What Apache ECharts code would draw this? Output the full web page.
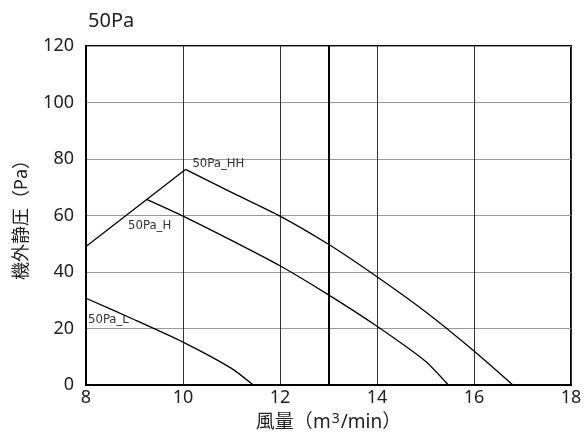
<!DOCTYPE html>
<html><head><meta charset="utf-8">
<script src="https://cdn.jsdelivr.net/npm/echarts@6/dist/echarts.min.js"></script>
<style>html,body{margin:0;padding:0;background:#fff}#c{width:587px;height:443px}</style>
</head><body><div id="c"></div>
<script>
var titleText = '50Pa';
var xTicks = {min: 8, max: 18, interval: 2};
var yTicks = {min: 0, max: 120, interval: 20};
var markX = 13;

var hhName = '50Pa_HH';
var hhX = [8, 10.05, 11, 12, 13, 14, 15, 16, 16.8];
var hhY = [49, 76.3, 68.2, 59.8, 49.8, 38.3, 25.9, 12, 0];
var hhPeak = 1;

var hName = '50Pa_H';
var hX = [9.25, 10, 11, 12, 13, 14, 15, 15.47];
var hY = [65.7, 59.8, 51.2, 42.2, 31.9, 20.8, 8.4, 0];

var lName = '50Pa_L';
var lX = [8, 9, 10, 11, 11.45];
var lY = [30.7, 23.1, 15.2, 5.9, 0];

var FONT = '"Noto Sans", "Noto Sans CJK JP", sans-serif';
var LFONT = '"DejaVu Sans Condensed", sans-serif';

function pts(xs, ys, from, to) {
  var out = [];
  for (var i = from; i < to; i++) out.push([xs[i], ys[i]]);
  return out;
}
function withLabel(data, idx, name, lab) {
  return data.map(function (p, i) {
    var d = {value: p};
    if (i === idx) d.label = Object.assign({show: true, formatter: name, color: '#333', fontSize: 13, fontFamily: LFONT}, lab);
    return d;
  });
}

var chart = echarts.init(document.getElementById('c'), null, {renderer: 'canvas'});
var ls = {color: '#000', width: 1.3};
var common = {type: 'line', symbol: 'circle', symbolSize: 0, showSymbol: true, lineStyle: ls, itemStyle: {color: '#000'}, smooth: 0.2};
chart.setOption({
  animation: false,
  title: {text: titleText, left: 83, top: 6, textStyle: {fontFamily: FONT, fontSize: 20, fontWeight: 'normal', color: '#222'}},
  grid: {left: 86, right: 16, top: 46, bottom: 58, show: true, borderColor: '#000', borderWidth: 2, backgroundColor: 'transparent'},
  xAxis: {
    type: 'value', min: xTicks.min, max: xTicks.max, interval: xTicks.interval,
    name: '{a|風量（m}{s|3}{a|/min）}', nameLocation: 'middle', nameGap: 26,
    nameTextStyle: {rich: {a: {fontFamily: FONT, fontSize: 19, color: '#222'}, s: {fontFamily: FONT, fontSize: 14, color: '#222', verticalAlign: 'top', padding: [0, 1, 8, 1]}}},
    axisLine: {lineStyle: {color: '#000', width: 2}},
    axisTick: {show: false},
    axisLabel: {fontFamily: FONT, fontSize: 18, color: '#222', margin: 4},
    splitLine: {show: true, lineStyle: {color: '#333', width: 1}}
  },
  yAxis: {
    type: 'value', min: yTicks.min, max: yTicks.max, interval: yTicks.interval,
    name: '機外静圧（Pa）', nameLocation: 'middle', nameGap: 55,
    nameTextStyle: {fontFamily: FONT, fontSize: 18, color: '#222'},
    axisLine: {lineStyle: {color: '#000', width: 2}},
    axisTick: {show: false},
    axisLabel: {fontFamily: FONT, fontSize: 18, color: '#222', margin: 12},
    splitLine: {show: true, lineStyle: {color: '#999', width: 1}}
  },
  series: [
    Object.assign({}, common, {name: hhName + ' rise', smooth: false,
      data: withLabel(pts(hhX, hhY, 0, hhPeak + 1), hhPeak, hhName, {position: 'right', distance: 7, offset: [0, -6]}),
      markLine: {silent: true, symbol: 'none', label: {show: false}, lineStyle: {color: '#000', width: 2, type: 'solid'}, data: [{xAxis: markX}]}}),
    Object.assign({}, common, {name: hhName, data: pts(hhX, hhY, hhPeak, hhX.length)}),
    Object.assign({}, common, {name: hName, data: withLabel(pts(hX, hY, 0, hX.length), 0, hName, {position: 'bottom', distance: 20, offset: [3, 0]})}),
    Object.assign({}, common, {name: lName, data: withLabel(pts(lX, lY, 0, lX.length), 0, lName, {position: 'right', distance: 2, offset: [0, 21]})})
  ]
});
</script>
</body></html>
